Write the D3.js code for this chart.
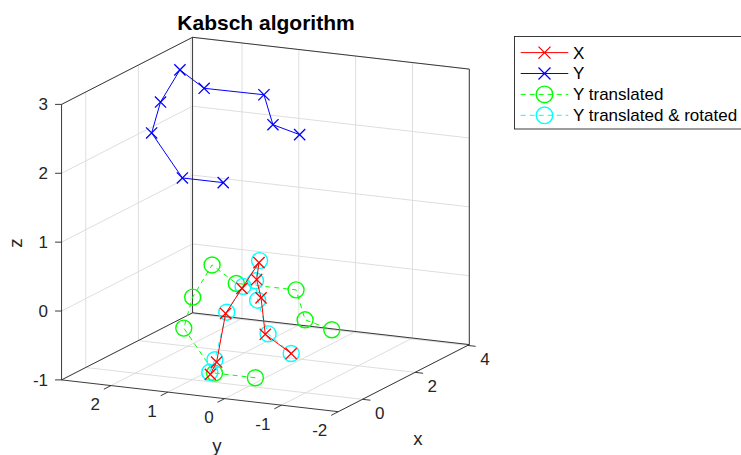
<!DOCTYPE html>
<html>
<head>
<meta charset="utf-8">
<script src="https://cdn.jsdelivr.net/npm/d3@7"></script>
<style>
  html, body { margin: 0; padding: 0; background: #fff; }
  svg { display: block; font-family: "Liberation Sans", Arial, Helvetica, sans-serif; }
</style>
</head>
<body>
<svg id="chart" width="741" height="455"></svg>
<script>
// Axis limits and ticks
const xLim = [-0.92, 4.06];
const yLim = [-2, 2.87];
const zLim = [-1, 3];
const xTicks = [0, 2, 4];
const yTicks = [-2, -1, 0, 1, 2];
const zTicks = [-1, 0, 1, 2, 3];

// Point sets, each row is [x, y, z]
const ptsX = [
  [0.20, 0.77, -0.94], [0.20, 0.66, -0.75], [-0.30, 0.27, 0.09],
  [-0.50, -0.11, 0.53], [0.30, -0.04, 0.74], [-0.20, -0.23, 0.61],
  [-0.40, -0.40, 0.40], [0.30, -0.15, -0.29], [0.40, -0.56, -0.55]
];
const ptsY = [
  [1.10, 0.96, 1.65], [1.60, 1.91, 1.53], [1.90, 2.59, 2.06],
  [2.00, 2.48, 2.50], [2.50, 2.37, 2.88], [1.80, 1.62, 2.82],
  [1.20, 0.29, 2.97], [0.70, -0.10, 2.67], [0.70, -0.57, 2.57]
];
const ptsYt = [
  [-0.40, -0.30, -0.77], [0.10, 0.65, -0.89], [0.40, 1.33, -0.36],
  [0.50, 1.22, 0.08], [1.00, 1.11, 0.46], [0.30, 0.36, 0.40],
  [-0.30, -0.97, 0.55], [-0.80, -1.36, 0.25], [-0.80, -1.83, 0.15]
];
const ptsYtr = [
  [0.20, 0.78, -0.91], [0.20, 0.69, -0.72], [-0.30, 0.25, 0.11],
  [-0.50, -0.13, 0.56], [0.30, -0.05, 0.77], [-0.20, -0.21, 0.59],
  [-0.40, -0.34, 0.36], [0.30, -0.20, -0.28], [0.40, -0.56, -0.55]
];
const seriesNames = ["X", "Y", "Y translated", "Y translated & rotated"];

const svg = d3.select("#chart");

// Orthographic view: normalised axis coordinates -> screen via box edge vectors
const sx = d3.scaleLinear().domain(xLim).range([0, 1]);
const sy = d3.scaleLinear().domain(yLim).range([0, 1]);
const sz = d3.scaleLinear().domain(zLim).range([0, 1]);
const corner = [338.3, 411.7];      // (xmin, ymin, zmin)
const vx = [131, -67.1];            // along x, full range
const vy = [-276.75, -31.8];        // along y, full range
const vz = [0, -275.5];             // along z, full range
function proj(p) {
  const u = sx(p[0]), v = sy(p[1]), w = sz(p[2]);
  return [corner[0] + u * vx[0] + v * vy[0] + w * vz[0],
          corner[1] + u * vx[1] + v * vy[1] + w * vz[1]];
}
const line3 = d3.line().x(p => proj(p)[0]).y(p => proj(p)[1]);

const [x0, x1] = xLim, [y0, y1] = yLim, [z0, z1] = zLim;

// Grid lines on the floor and the two back walls
const gridSegs = [];
xTicks.forEach(t => {
  gridSegs.push([[t, y0, z0], [t, y1, z0]]);
  gridSegs.push([[t, y1, z0], [t, y1, z1]]);
});
yTicks.forEach(t => {
  gridSegs.push([[x0, t, z0], [x1, t, z0]]);
  gridSegs.push([[x1, t, z0], [x1, t, z1]]);
});
zTicks.forEach(t => {
  gridSegs.push([[x0, y1, t], [x1, y1, t]]);
  gridSegs.push([[x1, y0, t], [x1, y1, t]]);
});
svg.append("g").selectAll("path").data(gridSegs).join("path")
  .attr("d", d => line3(d))
  .attr("fill", "none").attr("stroke", "#dedede").attr("stroke-width", 1);

// Box edges
const boxSegs = [
  [[x0, y0, z0], [x0, y1, z0]],
  [[x0, y0, z0], [x1, y0, z0]],
  [[x0, y1, z0], [x1, y1, z0]],
  [[x1, y0, z0], [x1, y1, z0]],
  [[x0, y1, z0], [x0, y1, z1]],
  [[x1, y1, z0], [x1, y1, z1]],
  [[x1, y0, z0], [x1, y0, z1]],
  [[x0, y1, z1], [x1, y1, z1]],
  [[x1, y1, z1], [x1, y0, z1]]
];
svg.append("g").selectAll("path").data(boxSegs).join("path")
  .attr("d", d => line3(d))
  .attr("fill", "none").attr("stroke", "#262626").attr("stroke-width", 0.9);

// Tick marks
const tickLen = 8;
const nx = Math.hypot(vx[0], vx[1]), ny = Math.hypot(vy[0], vy[1]);
const axisG = svg.append("g").attr("font-size", 17).attr("fill", "#262626");

xTicks.forEach(t => {
  const p = proj([t, y0, z0]);
  axisG.append("line")
    .attr("x1", p[0]).attr("y1", p[1])
    .attr("x2", p[0] - vy[0] / ny * tickLen).attr("y2", p[1] - vy[1] / ny * tickLen)
    .attr("stroke", "#262626").attr("stroke-width", 0.9);
  axisG.append("text").attr("x", p[0] + 12.5).attr("y", p[1] + 13.5)
    .attr("dy", "0.35em").attr("text-anchor", "start").text(d3.format("d")(t).replace("-", "\u2212"));
});
yTicks.forEach(t => {
  const p = proj([x0, t, z0]);
  axisG.append("line")
    .attr("x1", p[0]).attr("y1", p[1])
    .attr("x2", p[0] - vx[0] / nx * tickLen).attr("y2", p[1] - vx[1] / nx * tickLen)
    .attr("stroke", "#262626").attr("stroke-width", 0.9);
  axisG.append("text").attr("x", p[0] - 11).attr("y", p[1] + 18.5)
    .attr("dy", "0.35em").attr("text-anchor", "end").text(String(t));
});
zTicks.forEach(t => {
  const p = proj([x0, y1, t]);
  axisG.append("line")
    .attr("x1", p[0]).attr("y1", p[1]).attr("x2", p[0] - 6.5).attr("y2", p[1])
    .attr("stroke", "#262626").attr("stroke-width", 0.9);
  axisG.append("text").attr("x", p[0] - 13.5).attr("y", p[1])
    .attr("dy", "0.35em").attr("text-anchor", "end").text(String(t));
});

// Axis titles
const labG = svg.append("g").attr("font-size", 18.7).attr("fill", "#262626").attr("text-anchor", "middle");
labG.append("text").attr("x", 418).attr("y", 444.5).text("x");
labG.append("text").attr("x", 217).attr("y", 451.5).text("y");
labG.append("text").attr("transform", "translate(21.5,243) rotate(-90)").text("z");

// Chart title
svg.append("text").attr("x", 266).attr("y", 30).attr("text-anchor", "middle")
  .attr("font-size", 21).attr("font-weight", "bold").attr("fill", "#000")
  .text("Kabsch algorithm");

// Series
const crossPath = s => `M${-s},${-s}L${s},${s}M${-s},${s}L${s},${-s}`;
const series = [
  { name: seriesNames[2], pts: ptsYt,  color: "#00ff00", dash: "5,4", marker: "o" },
  { name: seriesNames[3], pts: ptsYtr, color: "#00ffff", dash: "5,4", marker: "o" },
  { name: seriesNames[0], pts: ptsX,   color: "#ff0000", dash: null,  marker: "x" },
  { name: seriesNames[1], pts: ptsY,   color: "#0000ff", dash: null,  marker: "x" }
];

function drawMarker(g, type, color, cx, cy, big) {
  if (type === "x") {
    g.append("path").attr("d", crossPath(big ? 6 : 5.6))
      .attr("transform", `translate(${cx},${cy})`)
      .attr("fill", "none").attr("stroke", color).attr("stroke-width", 1.3);
  } else {
    g.append("circle").attr("cx", cx).attr("cy", cy).attr("r", big ? 8.3 : 8)
      .attr("fill", "none").attr("stroke", color).attr("stroke-width", 1.4);
  }
}

series.forEach(s => {
  const g = svg.append("g");
  g.append("path").attr("d", line3(s.pts))
    .attr("fill", "none").attr("stroke", s.color).attr("stroke-width", 1)
    .attr("stroke-dasharray", s.dash);
  s.pts.forEach(p => {
    const q = proj(p);
    drawMarker(g, s.marker, s.color, q[0], q[1], false);
  });
});

// Legend
const legendOrder = [series[2], series[3], series[0], series[1]];
const leg = svg.append("g");
leg.append("rect").attr("x", 514.5).attr("y", 36.5).attr("width", 240).attr("height", 92.5)
  .attr("fill", "#fff").attr("stroke", "#262626").attr("stroke-width", 0.9);
legendOrder.forEach((s, i) => {
  const cy = 52.6 + i * 20.9;
  leg.append("line").attr("x1", 520.7).attr("x2", 568.3).attr("y1", cy).attr("y2", cy)
    .attr("stroke", s.color).attr("stroke-width", 1).attr("stroke-dasharray", s.dash);
  drawMarker(leg, s.marker, s.color, 544.5, cy, true);
  leg.append("text").attr("x", 573).attr("y", cy).attr("dy", "0.35em")
    .attr("font-size", 17).attr("fill", "#000").text(s.name);
});
</script>
</body>
</html>
